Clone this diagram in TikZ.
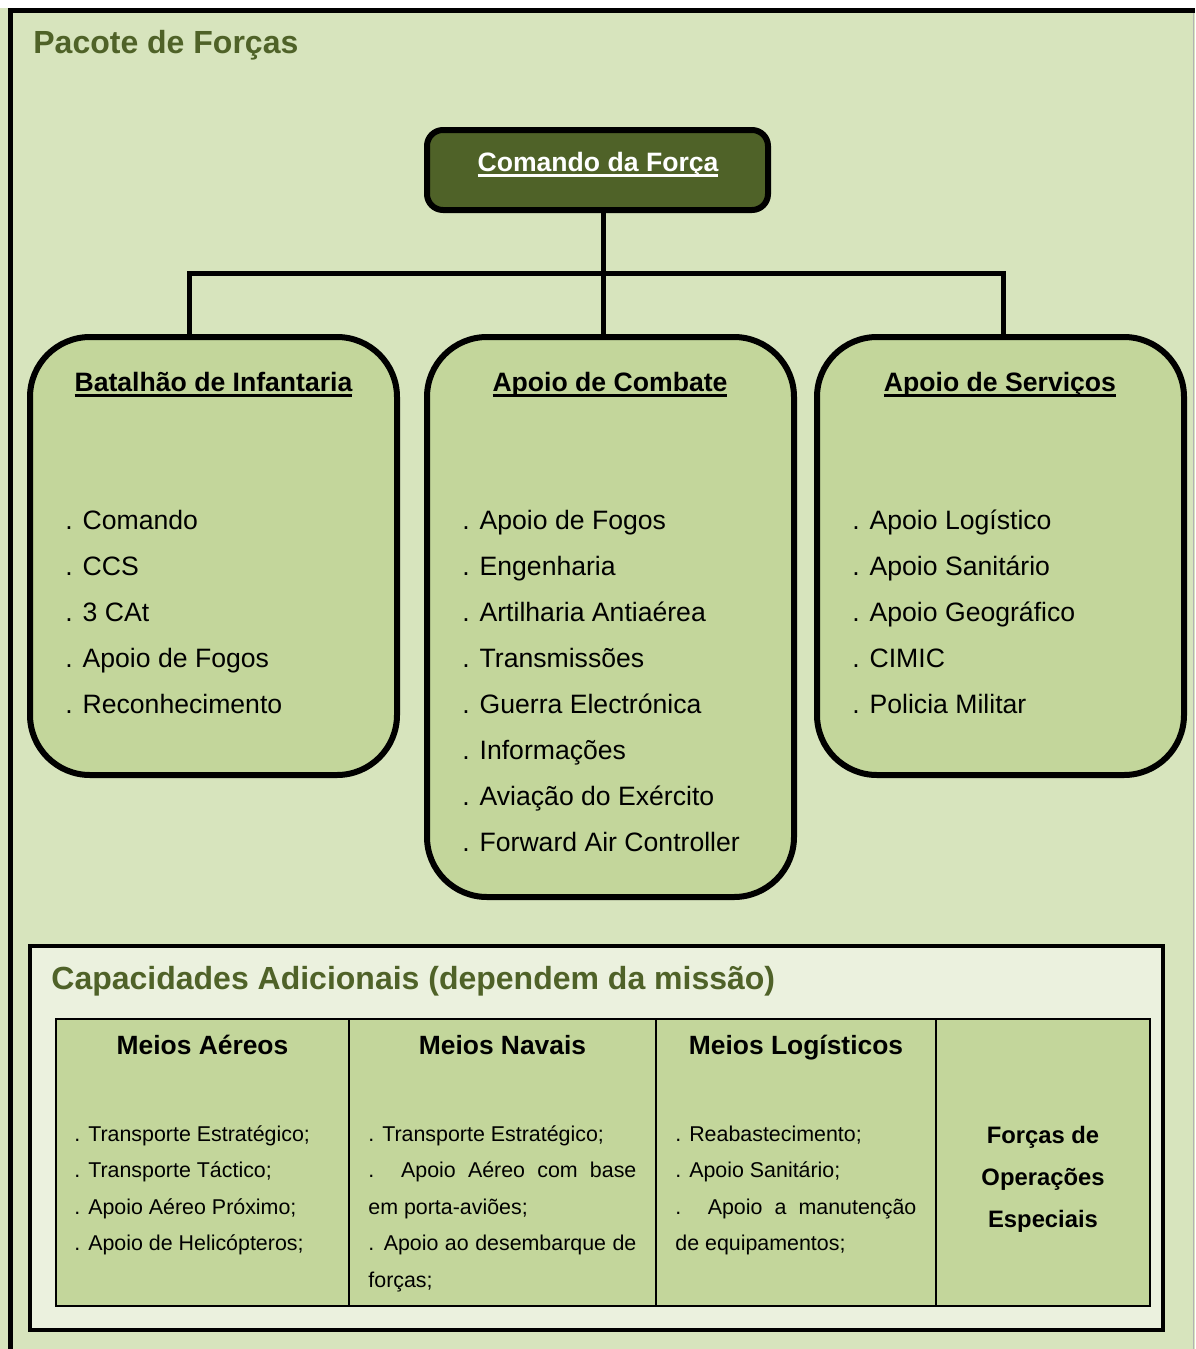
\documentclass[tikz,border=0pt]{standalone}
\usepackage{fontspec}
\setmainfont{Liberation Sans}
\usetikzlibrary{positioning}
\definecolor{oliveish}{RGB}{79,98,40}
\definecolor{sageish}{RGB}{195,214,155}
\definecolor{paleish}{RGB}{215,228,189}
\definecolor{creamish}{RGB}{235,241,222}

% underline at a fixed depth (cedillas do not push it down)
\newcommand\hdr[1]{\setbox0\hbox{#1}\rlap{\rule[-2.85pt]{\wd0}{1.35pt}}\box0}

\begin{document}
\begin{tikzpicture}[
  x=0.5pt,
  y=-0.5pt,
  title/.style={
    inner sep=0pt,
    text=oliveish,
    font=\fontsize{16}{19}\selectfont\bfseries
  },
  chief/.style={
    draw,
    line width=3pt,
    rounded corners=8pt,
    fill=oliveish,
    minimum width=170.5pt,
    minimum height=40pt,
    inner sep=0pt,
    outer sep=0pt
  },
  unit/.style={
    draw,
    line width=3pt,
    rounded corners=30pt,
    fill=sageish,
    minimum width=183.5pt,
    inner sep=0pt,
    outer sep=0pt
  },
  head/.style={
    inner sep=0pt,
    font=\fontsize{13.3}{16}\selectfont\bfseries
  },
  item/.style={
    inner sep=0pt,
    font=\fontsize{13.3}{16}\selectfont
  },
  frame/.style={
    draw,
    line width=2.2pt,
    fill=creamish,
    inner sep=0pt,
    outer sep=0pt
  },
  cell/.style={
    draw,
    line width=0.9pt,
    fill=sageish,
    minimum height=143.5pt,
    inner sep=0pt,
    outer sep=0pt
  },
  cellhead/.style={
    inner sep=0pt,
    font=\fontsize{13.2}{16}\selectfont\bfseries
  },
  cellitem/.style={
    inner sep=0pt,
    font=\fontsize{10.7}{13}\selectfont
  },
  link/.style={
    line width=2.5pt
  }
]

\useasboundingbox (0,0) rectangle (1195,1349);
\fill[paleish] (0,0) rectangle (1195,1349);
\fill[white] (0,0) rectangle (1195,8);
\draw[gray!60, line width=0.5pt] (1193,8) -- (1193,1349);
\draw[line width=2.25pt] (10.5,1349) -- (10.5,10.5) -- (1195,10.5);

\node[title, anchor=base west] (pacote) at (33,53) {Pacote de Forças};

% Command
\node[chief, anchor=north west] (cmd) at (427,130) {};
\node[head, text=white, anchor=base] (cmd-h) at (598,171) {\hdr{Comando da Força}};

% Units
\node[unit, anchor=north west, minimum height=219pt] (bat) at (30,337) {};
\node[unit, anchor=north west, minimum height=280pt] (cbt) at (427,337) {};
\node[unit, anchor=north west, minimum height=219pt] (svc) at (817,337) {};

\node[head, anchor=base] (bat-h) at (213.5,391) {\hdr{Batalhão de Infantaria}};
\node[head, anchor=base] (cbt-h) at (610,391) {\hdr{Apoio de Combate}};
\node[head, anchor=base] (svc-h) at (1000,391) {\hdr{Apoio de Serviços}};

\foreach \t [count=\i] in {Comando, CCS, 3 CAt, Apoio de Fogos, Reconhecimento} {
  \node[item, anchor=base west] (bat-\i) at (65,{529+46*(\i-1)}) {. \t};
}
\foreach \t [count=\i] in {Apoio de Fogos, Engenharia, Artilharia Antiaérea, Transmissões,
    Guerra Electrónica, Informações, Aviação do Exército, Forward Air Controller} {
  \node[item, anchor=base west] (cbt-\i) at (462,{529+46*(\i-1)}) {. \t};
}
\foreach \t [count=\i] in {Apoio Logístico, Apoio Sanitário, Apoio Geográfico, CIMIC, Policia Militar} {
  \node[item, anchor=base west] (svc-\i) at (852,{529+46*(\i-1)}) {. \t};
}

% Connectors
\coordinate (busL) at (189,273.5);
\coordinate (busM) at (603,273.5);
\coordinate (busR) at (1003,273.5);
\draw[link] (busL |- bat.north) -- (busL) -- (busR) -- (busR |- svc.north);
\draw[link] (busM |- cmd.south) -- (busM |- cbt.north);

% Additional capabilities
\node[frame, anchor=north west, minimum width=566.5pt, minimum height=192pt] (extra) at (30,946) {};
\node[title, anchor=base west] (extra-t) at (51,989) {Capacidades Adicionais (dependem da missão)};

\node[cell, anchor=north west, minimum width=146.5pt] (aer) at (56,1019) {};
\node[cell, minimum width=153.5pt, right=0pt of aer] (nav) {};
\node[cell, minimum width=140pt, right=0pt of nav] (log) {};
\node[cell, minimum width=107pt, right=0pt of log] (sof) {};

\node[cellhead, anchor=base] (aer-h) at (202.5,1054) {Meios Aéreos};
\node[cellhead, anchor=base] (nav-h) at (502.5,1054) {Meios Navais};
\node[cellhead, anchor=base] (log-h) at (796,1054) {Meios Logísticos};

\foreach \t [count=\i] in {{. Transporte Estratégico;}, {. Transporte Táctico;},
    {. Apoio Aéreo Próximo;}, {. Apoio de Helicópteros;}} {
  \node[cellitem, anchor=base west] (aer-\i) at (74,{1141+36.5*(\i-1)}) {\t};
}
\foreach \t [count=\i] in {{. Transporte Estratégico;}, {\makebox[134pt][s]{. Apoio Aéreo com base}},
    {em porta-aviões;}, {\makebox[134pt][s]{. Apoio ao desembarque de}}, {forças;}} {
  \node[cellitem, anchor=base west] (nav-\i) at (368,{1141+36.5*(\i-1)}) {\t};
}
\foreach \t [count=\i] in {{. Reabastecimento;}, {. Apoio Sanitário;},
    {\makebox[120.5pt][s]{. Apoio a manutenção}}, {de equipamentos;}} {
  \node[cellitem, anchor=base west] (log-\i) at (675,{1141+36.5*(\i-1)}) {\t};
}
\foreach \t [count=\i] in {Forças de, Operações, Especiais} {
  \node[cellhead, font=\fontsize{11.9}{14}\selectfont\bfseries, anchor=base] (sof-\i) at (1043,{1143+42*(\i-1)}) {\t};
}

\end{tikzpicture}
\end{document}
